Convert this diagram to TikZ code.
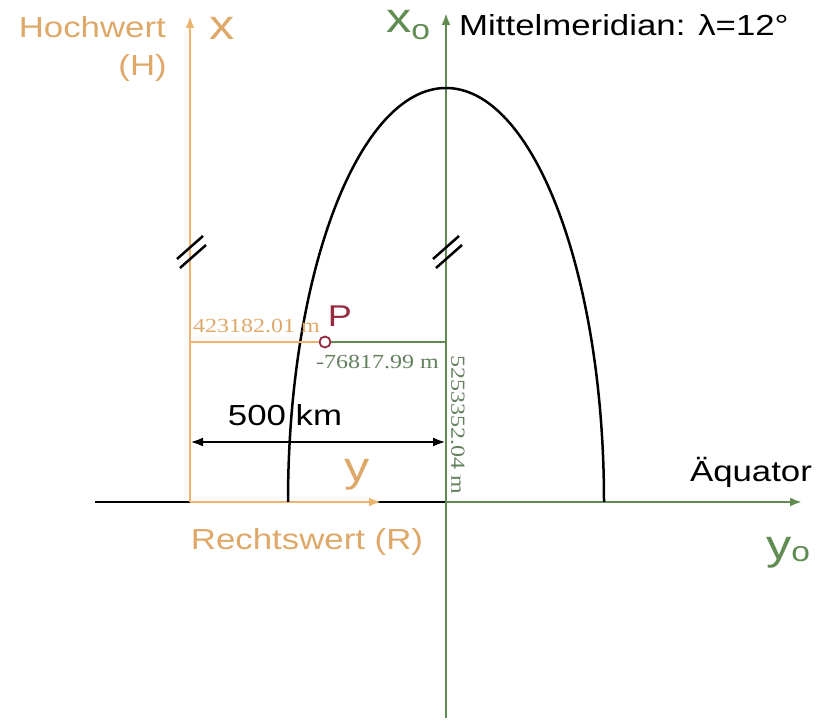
\documentclass[tikz,border=0pt]{standalone}
\usepackage{fontspec}
\setmainfont[FakeStretch=1.2]{Liberation Sans}
\newfontfamily\numfont[FakeStretch=1.2]{Liberation Serif}
\usetikzlibrary{arrows.meta}
\definecolor{orng}{RGB}{236,180,112}
\definecolor{orngtxt}{RGB}{222,168,105}
\definecolor{grn}{RGB}{96,140,82}
\definecolor{grntxt}{RGB}{100,128,95}
\definecolor{pred}{RGB}{150,42,62}
\tikzset{
  axisorng/.style={draw=orng, line width=2.8pt},
  axisgrn/.style={draw=grn, line width=2.4pt},
  blk/.style={draw=black, line width=2.5pt},
  tip/.style={-{Latex[length=12pt,width=9pt]}},
  lbl/.style={inner sep=0pt, font=\fontsize{29}{32}\selectfont},
  biglbl/.style={inner sep=0pt, font=\fontsize{42}{44}\selectfont},
  numlbl/.style={inner sep=0pt, font=\numfont\fontsize{20}{22}\selectfont},
  slash/.style={draw=black, line width=2.5pt}
}
\begin{document}
\begin{tikzpicture}
\useasboundingbox (0,0) rectangle (819pt,722pt);
\begin{scope}[x=1pt,y=1pt]
% coordinates
\coordinate (eqL) at (95,220);
\coordinate (O) at (446,220);
\coordinate (eqR) at (802,220);
\coordinate (oB) at (190,220);
\coordinate (oT) at (190,706);
\coordinate (yT) at (381,220);
\coordinate (gB) at (446,4);
\coordinate (gT) at (446,709);
\coordinate (elL) at (288,220);
\coordinate (hL) at (190,380);
\coordinate (hR) at (446,380);
\coordinate (dL) at (190,280);
\coordinate (dR) at (446,280);
% equator
\draw[blk] (eqL) -- (O);
\draw[axisgrn,tip] (O) -- (eqR);
% green vertical axis
\draw[axisgrn,tip] (gB) -- (gT);
% orange axes
\draw[axisorng,tip] (oB) -- (yT);
\draw[axisorng,tip] (oB) -- (oT);
% ellipse
\draw[blk] (elL) arc[start angle=180,end angle=0,x radius=158pt,y radius=414pt];
% point P
\node[circle, draw=pred, fill=white, line width=1.8pt, inner sep=0pt, minimum size=11pt] (P) at (325,380) {};
\draw[draw=orng, line width=2.4pt] (hL) -- (P.west);
\draw[draw=grn, line width=2.4pt] (P.east) -- (hR);
% dimension
\draw[blk,{Latex[length=13pt,width=9pt]}-{Latex[length=13pt,width=9pt]}] (dL) -- (dR);
% break marks
\foreach \cx in {190,446}{
  \draw[slash] (\cx-13,463) -- (\cx+13,486);
  \draw[slash] (\cx-10,454) -- (\cx+16,477);
}
% labels
\node[lbl, text=orngtxt, anchor=east] (hoch) at (166,695) {Hochwert};
\node[lbl, text=orngtxt, anchor=east] (hh) at (167,654) {(H)};
\node[biglbl, text=orngtxt] (xl) at (222,694) {x};
\node[biglbl, text=grn, anchor=west] (xo) at (386,697) {x\raisebox{-0.3ex}{\fontsize{28}{30}\selectfont o}};
\node[lbl, anchor=west] (mm) at (459,697) {Mittelmeridian: λ=12°};
\node[lbl, text=pred, font=\fontsize{30}{32}\selectfont] (Pl) at (340,406) {P};
\node[numlbl, text=orngtxt, anchor=base west] (n1) at (193,389) {423182.01 m};
\node[numlbl, text=grntxt, anchor=west] (n2) at (316,360) {-76817.99 m};
\node[numlbl, text=grntxt, rotate=-90] (n3) at (458,297) {5253352.04 m};
\node[lbl] (km) at (285,307) {500 km};
\node[biglbl, text=orngtxt] (yl) at (357,247) {y};
\node[lbl, text=orngtxt] (rw) at (307,180) {Rechtswert (R)};
\node[lbl] (aq) at (751,250) {Äquator};
\node[biglbl, text=grn, anchor=west] (yo) at (766,169) {y\raisebox{-0.1ex}{\fontsize{28}{30}\selectfont o}};
\end{scope}
\end{tikzpicture}
\end{document}
